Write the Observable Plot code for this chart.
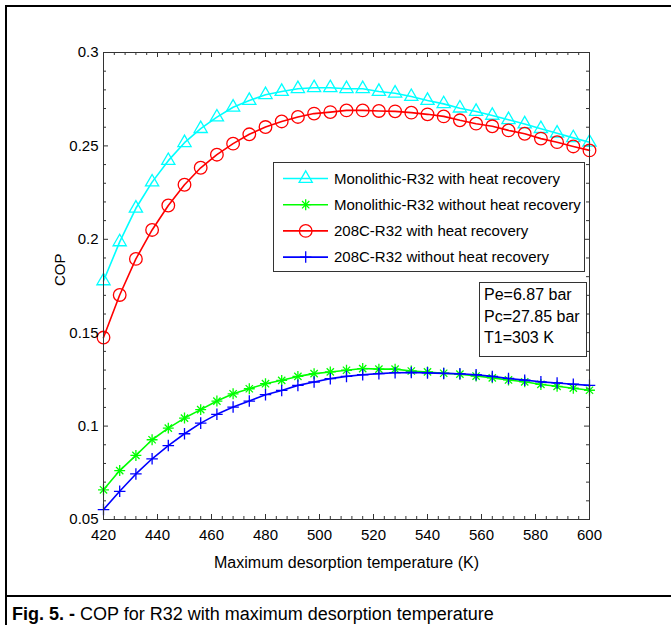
<!DOCTYPE html>
<html>
<head>
<meta charset="utf-8">
<script src="https://cdn.jsdelivr.net/npm/d3@7"></script>
<script src="https://cdn.jsdelivr.net/npm/@observablehq/plot@0.6"></script>
<style>
  html, body { margin: 0; padding: 0; background: #fff; }
  body { font-family: "Liberation Sans", Arial, Helvetica, sans-serif; }
  #wrap { position: relative; width: 671px; height: 625px; overflow: hidden; background: #fff; }
  #chart { position: absolute; left: 0; top: 0; }
  #frame { position: absolute; left: 5px; top: 5px; width: 700px; height: 592px; border: 2.5px solid #000; box-sizing: border-box; pointer-events: none; }
  #capbox { position: absolute; left: 5px; top: 596px; width: 700px; height: 40px; border-left: 2.5px solid #000; box-sizing: border-box; }
  #caption { position: absolute; left: 12px; top: 603px; font-size: 18px; color: #000; white-space: nowrap; line-height: 22px; }
  #legend { position: absolute; left: 273px; top: 162px; }
  #note { position: absolute; left: 479px; top: 282px; width: 108px; height: 75px; border: 1px solid #333; box-sizing: border-box; background: #fff; font-size: 16px; line-height: 21.5px; padding: 1px 0 0 4px; color: #000; }
</style>
</head>
<body>
<div id="wrap">
  <div id="chart"></div>
  <div id="frame"></div>
  <div id="capbox"></div>
  <div id="caption"><b>Fig. 5. -</b> COP for R32 with maximum desorption temperature</div>
  <div id="legend"></div>
  <div id="note">Pe=6.87 bar<br>Pc=27.85 bar<br>T1=303 K</div>
</div>
<script>
// ---------- data ----------
const temps = [420,426,432,438,444,450,456,462,468,474,480,486,492,498,504,510,516,522,528,534,540,546,552,558,564,570,576,582,588,594,600];

const monoWithHR = [0.1777,0.1986,0.2166,0.2306,0.2421,0.2517,0.2592,0.2654,0.2707,0.2743,0.2774,0.2791,0.2806,0.2811,0.2811,0.2806,
                    0.2806,0.2791,0.2782,0.2764,0.2743,0.2725,0.2702,0.2684,0.2663,0.2640,0.2617,0.2592,0.2568,0.2543,0.2519];
const monoWithoutHR = [0.0659,0.0762,0.0843,0.0927,0.0989,0.1043,0.1088,0.1134,0.1173,0.1200,0.1227,0.1245,0.1266,0.1281,0.1290,0.1299,
                       0.1308,0.1305,0.1305,0.1295,0.1290,0.1283,0.1278,0.1268,0.1258,0.1247,0.1237,0.1223,0.1213,0.1203,0.1192];
const c208WithHR = [0.1474,0.1702,0.1895,0.2050,0.2181,0.2292,0.2383,0.2453,0.2512,0.2562,0.2601,0.2631,0.2655,0.2673,0.2681,0.2690,
                    0.2690,0.2687,0.2685,0.2678,0.2669,0.2658,0.2637,0.2619,0.2605,0.2583,0.2565,0.2539,0.2520,0.2497,0.2476];
const c208WithoutHR = [0.0553,0.0651,0.0744,0.0825,0.0896,0.0959,0.1016,0.1063,0.1102,0.1134,0.1168,0.1191,0.1218,0.1236,0.1254,0.1266,
                       0.1275,0.1281,0.1286,0.1287,0.1285,0.1282,0.1280,0.1275,0.1266,0.1255,0.1246,0.1237,0.1231,0.1224,0.1218];

const seriesNames = [
  "Monolithic-R32 with heat recovery",
  "Monolithic-R32 without heat recovery",
  "208C-R32 with heat recovery",
  "208C-R32 without heat recovery"
];
const seriesValues = [monoWithHR, monoWithoutHR, c208WithHR, c208WithoutHR];
const seriesColors = ["#00ffff", "#00ff00", "#ff0000", "#0000ff"];
const seriesSymbols = [["triangle2"], ["plus", "times"], ["circle"], ["plus"]];

const xTicks = [420,440,460,480,500,520,540,560,580,600];
const xTickLabels = ["420","440","460","480","500","520","540","560","580","600"];
const xMinorTicks = [424,428,432,436,444,448,452,456,464,468,472,476,484,488,492,496,504,508,512,516,524,528,532,536,544,548,552,556,564,568,572,576,584,588,592,596];
const yTicks = [0.05,0.1,0.15,0.2,0.25,0.3];
const yTickLabels = ["0.05","0.1","0.15","0.2","0.25","0.3"];
const yMinorTicks = [0.06,0.07,0.08,0.09,0.11,0.12,0.13,0.14,0.16,0.17,0.18,0.19,0.21,0.22,0.23,0.24,0.26,0.27,0.28,0.29];
const xLabel = "Maximum desorption temperature (K)";
const yLabel = "COP";

// ---------- table ----------
const rows = seriesNames.flatMap((name, s) =>
  temps.map((T, i) => ({series: name, T, cop: seriesValues[s][i]})));

// ---------- layout ----------
const W = 671, H = 597;
const mL = 103, mR = 82, mT = 52, mB = 78;
const pw = W - mL - mR, ph = H - mT - mB;
const axisColor = "#333";
const symR = {triangle2: 6.3, circle: 6.3, plus: 3.6, times: 3.4};
const plusBlueR = 3.8;

const marks = [];
// ticks (inward, all four sides)
marks.push(Plot.ruleX(xTicks, {x: d => d, insetTop: ph - 5, stroke: axisColor}));
marks.push(Plot.ruleX(xTicks, {x: d => d, insetBottom: ph - 5, stroke: axisColor}));
marks.push(Plot.ruleX(xMinorTicks, {x: d => d, insetTop: ph - 3, stroke: axisColor}));
marks.push(Plot.ruleX(xMinorTicks, {x: d => d, insetBottom: ph - 3, stroke: axisColor}));
marks.push(Plot.ruleY(yTicks, {y: d => d, insetRight: pw - 5, stroke: axisColor}));
marks.push(Plot.ruleY(yTicks, {y: d => d, insetLeft: pw - 5, stroke: axisColor}));
marks.push(Plot.ruleY(yMinorTicks, {y: d => d, insetRight: pw - 3, stroke: axisColor}));
marks.push(Plot.ruleY(yMinorTicks, {y: d => d, insetLeft: pw - 3, stroke: axisColor}));

seriesNames.forEach((name, s) => {
  const data = rows.filter(r => r.series === name);
  marks.push(Plot.line(data, {x: "T", y: "cop", stroke: seriesColors[s], strokeWidth: 1.6}));
  seriesSymbols[s].forEach(sym => {
    const r = (s === 3 && sym === "plus") ? plusBlueR : symR[sym];
    marks.push(Plot.dot(data, {x: "T", y: "cop", symbol: sym, r, stroke: seriesColors[s], fill: "none", strokeWidth: 1.3}));
  });
});

marks.push(Plot.frame({stroke: axisColor, strokeWidth: 1}));
marks.push(Plot.axisX(xTicks, {label: null, tickSize: 0, tickPadding: 10, tickFormat: (d, i) => xTickLabels[i], fontSize: 15, fill: "#000"}));
marks.push(Plot.axisY(yTicks, {label: null, tickSize: 0, tickPadding: 5, tickFormat: (d, i) => yTickLabels[i], fontSize: 15, fill: "#000"}));
marks.push(Plot.text([xLabel], {text: d => d, frameAnchor: "bottom", dy: 43, lineAnchor: "middle", fontSize: 16, fill: "#000"}));
marks.push(Plot.text([yLabel], {text: d => d, frameAnchor: "left", dx: -43, rotate: -90, lineAnchor: "middle", fontSize: 15, fill: "#000"}));

const chart = Plot.plot({
  width: W, height: H,
  marginLeft: mL, marginRight: mR, marginTop: mT, marginBottom: mB,
  style: {fontFamily: "'Liberation Sans', Arial, Helvetica, sans-serif", fontSize: "15px", background: "transparent", overflow: "visible"},
  x: {domain: [420, 600], axis: null, label: null},
  y: {domain: [0.05, 0.3], axis: null, label: null},
  marks
});
document.getElementById("chart").appendChild(chart);

// ---------- legend ----------
(function () {
  const lw = 312, lh = 110;
  const svg = d3.select("#legend").append("svg").attr("width", lw).attr("height", lh)
    .style("font-family", "'Liberation Sans', Arial, Helvetica, sans-serif").style("font-size", "15px");
  svg.append("rect").attr("x", 0.5).attr("y", 0.5).attr("width", lw - 1).attr("height", lh - 1)
    .attr("fill", "#fff").attr("stroke", axisColor);
  const symMap = {triangle2: d3.symbolTriangle2, circle: d3.symbolCircle, plus: d3.symbolPlus, times: d3.symbolTimes};
  seriesNames.forEach((name, s) => {
    const cy = 16.5 + s * 26.2;
    const g = svg.append("g");
    g.append("line").attr("x1", 10).attr("x2", 55).attr("y1", cy).attr("y2", cy)
      .attr("stroke", seriesColors[s]).attr("stroke-width", 1.6);
    seriesSymbols[s].forEach(sym => {
      const r = (s === 3 && sym === "plus") ? plusBlueR : symR[sym];
      g.append("path").attr("d", d3.symbol(symMap[sym], Math.PI * r * r)())
        .attr("transform", `translate(32.7,${cy})`).attr("fill", "none")
        .attr("stroke", seriesColors[s]).attr("stroke-width", 1.3);
    });
    g.append("text").attr("x", 61).attr("y", cy).attr("dy", "0.35em").attr("fill", "#000").text(name);
  });
})();
</script>
</body>
</html>
